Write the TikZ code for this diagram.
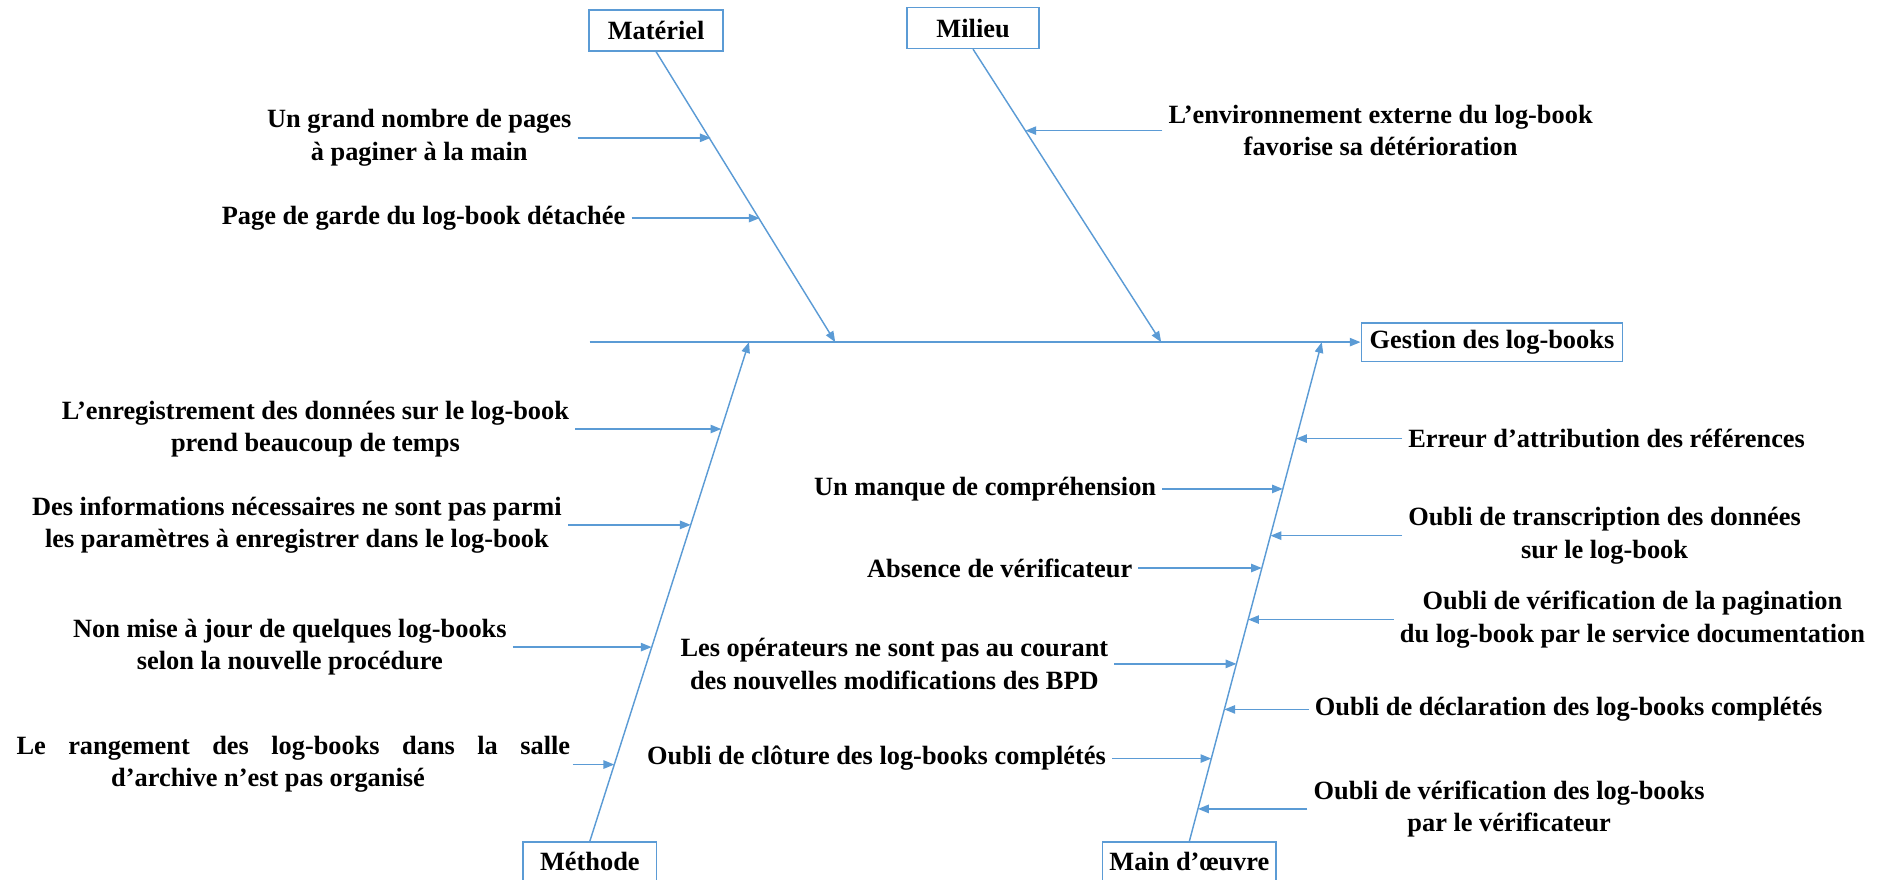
\documentclass[tikz,border=0pt]{standalone}
\usepackage{fontspec}
\setmainfont{Liberation Serif}
\usetikzlibrary{arrows.meta}
\definecolor{fishblue}{HTML}{5B9BD5}
\begin{document}
\begin{tikzpicture}[x=1pt,y=-1pt,
  txt/.style={font=\fontsize{22}{27}\selectfont\bfseries},
  bone/.style={draw=fishblue, line width=1.2pt},
  arr/.style={bone, -{Triangle[length=9pt,width=7pt]}},
  catbox/.style={txt, draw=fishblue, line width=1.3pt, minimum height=34pt, inner sep=4pt},
  botbox/.style={catbox, anchor=north, text height=19.7pt, text depth=20pt, inner ysep=4pt},
  cause/.style={txt, align=center, inner xsep=5pt, inner ysep=2pt},
  lcause/.style={cause, anchor=east},
  rcause/.style={cause, anchor=west},
]
\useasboundingbox (0,0) rectangle (1568,734);
\clip (0,0) rectangle (1568,734);

% category boxes and effect
\node[catbox, minimum width=112pt] (mat) at (547.5,25.5) {Matériel};
\node[catbox, minimum width=110pt] (mil) at (812,23.4) {Milieu};
\node[catbox, minimum width=218pt, minimum height=32pt] (eff) at (1245,285.5) {Gestion des log-books};
\node[botbox, minimum width=111.5pt] (met) at (492.2,702) {Méthode};
\node[botbox, minimum width=145pt] (mdo) at (992.5,702) {Main d’œuvre};

% spine
\coordinate (tail) at (492,285.5);
\draw[arr] (tail) -- (eff.west);

% main bones
\coordinate (jmat) at (697,285.5);
\coordinate (jmil) at (969,285.5);
\coordinate (jmet) at (625,285.5);
\coordinate (jmdo) at (1103,285.5);
\draw[arr] (mat.south) -- (jmat);
\draw[arr] (mil.south) -- (jmil);
\draw[arr] (met.north) -- (jmet);
\draw[arr] (mdo.north) -- (jmdo);

% Matériel causes
\node[lcause] (a1) at (482,115) {Un grand nombre de pages\\à paginer à la main};
\node[lcause] (a2) at (527,182) {Page de garde du log-book détachée};
\coordinate (pa1) at (593.1,115);
\coordinate (pa2) at (633.9,182);
\draw[arr] (a1.east) -- (pa1);
\draw[arr] (a2.east) -- (pa2);

% Milieu cause
\node[rcause] (b1) at (970,109) {L’environnement externe du log-book\\favorise sa détérioration};
\coordinate (pb1) at (855.7,109);
\draw[arr] (b1.west) -- (pb1);

% Méthode causes
\node[lcause] (c1) at (480,358) {L’enregistrement des données sur le log-book\\prend beaucoup de temps};
\node[lcause] (c2) at (474,438) {Des informations nécessaires ne sont pas parmi\\les paramètres à enregistrer dans le log-book};
\node[lcause] (c3) at (428,540) {Non mise à jour de quelques log-books\\selon la nouvelle procédure};
\node[lcause, align=left, inner xsep=2pt] (c4) at (478,638)
  {\makebox[462pt][s]{Le rangement des log-books dans la salle}\\\hspace*{79pt}d’archive n’est pas organisé};
\coordinate (pc1) at (601.9,358);
\coordinate (pc2) at (576.4,438);
\coordinate (pc3) at (543.8,540);
\coordinate (pc4) at (512.6,638);
\draw[arr] (c1.east) -- (pc1);
\draw[arr] (c2.east) -- (pc2);
\draw[arr] (c3.east) -- (pc3);
\draw[arr] (c4.east) -- (pc4);

% Main d'oeuvre causes, left side
\node[lcause] (d1) at (970,408) {Un manque de compréhension};
\node[lcause] (d2) at (950,474) {Absence de vérificateur};
\node[lcause] (d3) at (930,554) {Les opérateurs ne sont pas au courant\\des nouvelles modifications des BPD};
\node[lcause] (d4) at (928,633) {Oubli de clôture des log-books complétés};
\coordinate (pd1) at (1070.5,408);
\coordinate (pd2) at (1053,474);
\coordinate (pd3) at (1031.8,554);
\coordinate (pd4) at (1010.8,633);
\draw[arr] (d1.east) -- (pd1);
\draw[arr] (d2.east) -- (pd2);
\draw[arr] (d3.east) -- (pd3);
\draw[arr] (d4.east) -- (pd4);

% Main d'oeuvre causes, right side
\node[rcause] (e1) at (1170,366) {Erreur d’attribution des références};
\node[rcause] (e2) at (1170,447) {Oubli de transcription des données\\sur le log-book};
\node[rcause] (e3) at (1163,517) {Oubli de vérification de la pagination\\du log-book par le service documentation};
\node[rcause] (e4) at (1092,592) {Oubli de déclaration des log-books complétés};
\node[rcause] (e5) at (1091,675) {Oubli de vérification des log-books\\par le vérificateur};
\coordinate (pe1) at (1081.6,366);
\coordinate (pe2) at (1060.2,447);
\coordinate (pe3) at (1041.6,517);
\coordinate (pe4) at (1021.7,592);
\coordinate (pe5) at (999.7,675);
\draw[arr] (e1.west) -- (pe1);
\draw[arr] (e2.west) -- (pe2);
\draw[arr] (e3.west) -- (pe3);
\draw[arr] (e4.west) -- (pe4);
\draw[arr] (e5.west) -- (pe5);
\end{tikzpicture}
\end{document}
